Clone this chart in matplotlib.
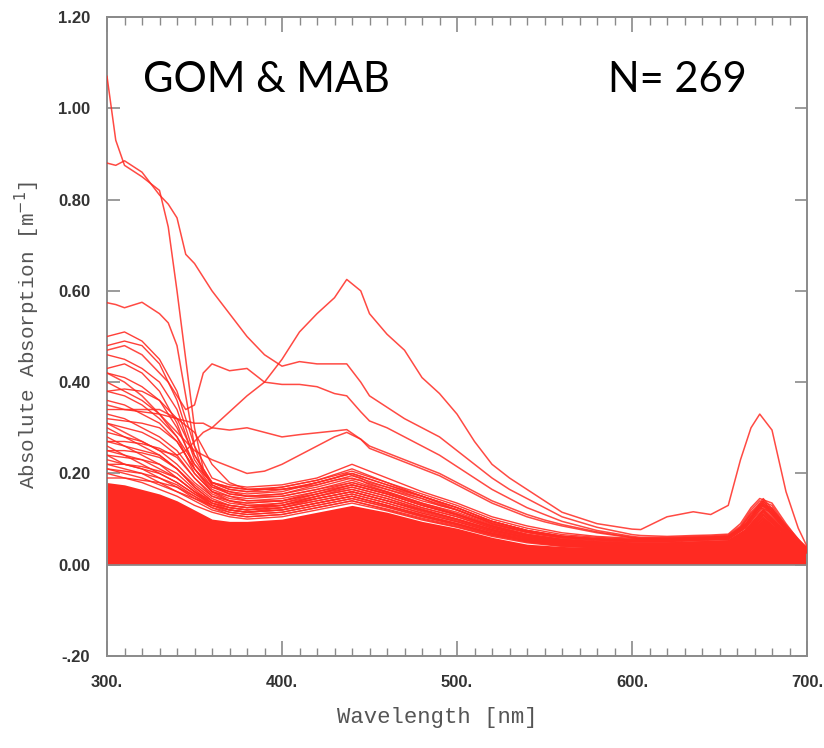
"""
Absolute absorption spectra, GOM & MAB (N=269)
"""
import matplotlib
matplotlib.use('Agg')
import matplotlib.pyplot as plt
from matplotlib.ticker import MultipleLocator

# ---- data ----
# common wavelength grid for the bulk of the spectra
wl = [300, 310, 320, 330, 340, 350, 360, 370, 380, 400, 420, 440, 460, 480,
      500, 520, 540, 560, 580, 600, 620, 640, 655, 665, 675, 685, 700]

# top of the saturated (overplotted) band of low spectra
dense_band_top = [0.18, 0.175, 0.165, 0.155, 0.14, 0.12, 0.10, 0.095, 0.095, 0.10, 0.115, 0.13, 0.115,
                  0.095, 0.08, 0.06, 0.045, 0.04, 0.038, 0.037, 0.038, 0.042, 0.045, 0.065, 0.10, 0.07, 0.035]

cluster_spectra = [
    [0.50, 0.51, 0.49, 0.45, 0.38, 0.26, 0.19, 0.175, 0.17, 0.175, 0.19, 0.22, 0.19, 0.16, 0.135, 0.105, 0.085, 0.07, 0.062, 0.058, 0.058, 0.06, 0.062, 0.09, 0.145, 0.10, 0.035],
    [0.48, 0.49, 0.48, 0.44, 0.36, 0.24, 0.18, 0.165, 0.16, 0.17, 0.185, 0.21, 0.18, 0.155, 0.13, 0.10, 0.08, 0.066, 0.06, 0.056, 0.056, 0.058, 0.06, 0.088, 0.14, 0.095, 0.034],
    [0.46, 0.45, 0.43, 0.40, 0.34, 0.23, 0.175, 0.16, 0.155, 0.16, 0.18, 0.20, 0.175, 0.15, 0.125, 0.095, 0.075, 0.062, 0.056, 0.053, 0.053, 0.056, 0.058, 0.085, 0.135, 0.09, 0.033],
    [0.43, 0.44, 0.42, 0.38, 0.31, 0.21, 0.17, 0.16, 0.15, 0.155, 0.17, 0.19, 0.165, 0.14, 0.12, 0.09, 0.072, 0.06, 0.054, 0.052, 0.052, 0.055, 0.057, 0.082, 0.13, 0.088, 0.032],
    [0.42, 0.41, 0.39, 0.36, 0.30, 0.22, 0.18, 0.17, 0.165, 0.17, 0.185, 0.205, 0.18, 0.15, 0.125, 0.095, 0.075, 0.063, 0.057, 0.054, 0.054, 0.057, 0.059, 0.086, 0.14, 0.092, 0.033],
    [0.40, 0.38, 0.36, 0.33, 0.28, 0.20, 0.16, 0.15, 0.145, 0.15, 0.165, 0.185, 0.16, 0.135, 0.115, 0.088, 0.07, 0.058, 0.052, 0.05, 0.05, 0.053, 0.055, 0.08, 0.125, 0.085, 0.032],
    [0.38, 0.37, 0.35, 0.32, 0.28, 0.22, 0.17, 0.155, 0.15, 0.155, 0.175, 0.195, 0.17, 0.145, 0.12, 0.092, 0.072, 0.06, 0.054, 0.051, 0.051, 0.054, 0.056, 0.082, 0.13, 0.088, 0.032],
    [0.36, 0.35, 0.33, 0.31, 0.27, 0.21, 0.165, 0.15, 0.14, 0.145, 0.16, 0.175, 0.155, 0.13, 0.11, 0.085, 0.066, 0.055, 0.05, 0.048, 0.048, 0.05, 0.052, 0.076, 0.12, 0.082, 0.031],
    [0.34, 0.34, 0.335, 0.33, 0.32, 0.29, 0.22, 0.18, 0.165, 0.165, 0.18, 0.20, 0.175, 0.15, 0.125, 0.095, 0.075, 0.062, 0.056, 0.053, 0.053, 0.056, 0.058, 0.085, 0.135, 0.09, 0.033],
    [0.33, 0.32, 0.30, 0.28, 0.25, 0.20, 0.16, 0.145, 0.14, 0.14, 0.155, 0.17, 0.15, 0.125, 0.105, 0.08, 0.063, 0.052, 0.047, 0.045, 0.045, 0.048, 0.05, 0.072, 0.115, 0.078, 0.03],
    [0.31, 0.30, 0.29, 0.27, 0.24, 0.19, 0.155, 0.14, 0.135, 0.14, 0.155, 0.175, 0.155, 0.13, 0.11, 0.083, 0.065, 0.054, 0.049, 0.046, 0.046, 0.049, 0.051, 0.075, 0.118, 0.08, 0.03],
    [0.30, 0.28, 0.26, 0.24, 0.21, 0.175, 0.145, 0.13, 0.125, 0.13, 0.145, 0.16, 0.14, 0.118, 0.098, 0.075, 0.058, 0.048, 0.044, 0.042, 0.042, 0.045, 0.047, 0.068, 0.108, 0.074, 0.029],
    [0.29, 0.28, 0.27, 0.25, 0.22, 0.18, 0.15, 0.14, 0.135, 0.14, 0.16, 0.18, 0.16, 0.135, 0.112, 0.086, 0.067, 0.056, 0.05, 0.047, 0.047, 0.05, 0.052, 0.076, 0.12, 0.082, 0.031],
    [0.28, 0.26, 0.24, 0.22, 0.19, 0.16, 0.135, 0.125, 0.12, 0.125, 0.14, 0.155, 0.135, 0.113, 0.094, 0.072, 0.056, 0.046, 0.042, 0.04, 0.04, 0.043, 0.045, 0.065, 0.104, 0.07, 0.028],
    [0.27, 0.26, 0.25, 0.24, 0.21, 0.17, 0.14, 0.13, 0.125, 0.13, 0.15, 0.17, 0.15, 0.125, 0.105, 0.08, 0.062, 0.051, 0.046, 0.044, 0.044, 0.047, 0.049, 0.071, 0.112, 0.076, 0.03],
    [0.26, 0.24, 0.22, 0.20, 0.18, 0.155, 0.13, 0.12, 0.115, 0.12, 0.135, 0.15, 0.13, 0.11, 0.09, 0.069, 0.054, 0.045, 0.041, 0.039, 0.039, 0.042, 0.044, 0.063, 0.10, 0.068, 0.028],
    [0.25, 0.24, 0.23, 0.21, 0.19, 0.16, 0.14, 0.13, 0.125, 0.135, 0.155, 0.175, 0.155, 0.13, 0.108, 0.082, 0.064, 0.053, 0.048, 0.045, 0.045, 0.048, 0.05, 0.073, 0.116, 0.078, 0.03],
    [0.24, 0.22, 0.21, 0.19, 0.17, 0.145, 0.125, 0.115, 0.11, 0.115, 0.13, 0.145, 0.127, 0.106, 0.088, 0.067, 0.052, 0.043, 0.039, 0.037, 0.037, 0.04, 0.042, 0.06, 0.096, 0.066, 0.027],
    [0.23, 0.22, 0.21, 0.20, 0.18, 0.155, 0.135, 0.125, 0.12, 0.13, 0.15, 0.165, 0.145, 0.12, 0.10, 0.077, 0.06, 0.05, 0.045, 0.042, 0.042, 0.045, 0.047, 0.068, 0.108, 0.074, 0.029],
    [0.22, 0.21, 0.20, 0.18, 0.16, 0.14, 0.12, 0.11, 0.105, 0.11, 0.125, 0.14, 0.122, 0.102, 0.085, 0.065, 0.05, 0.042, 0.038, 0.036, 0.036, 0.039, 0.041, 0.058, 0.092, 0.064, 0.026],
    [0.21, 0.20, 0.19, 0.175, 0.16, 0.145, 0.13, 0.12, 0.115, 0.125, 0.145, 0.16, 0.14, 0.116, 0.096, 0.074, 0.058, 0.048, 0.043, 0.041, 0.041, 0.044, 0.046, 0.066, 0.104, 0.071, 0.029],
    [0.20, 0.19, 0.18, 0.165, 0.15, 0.13, 0.115, 0.105, 0.10, 0.105, 0.12, 0.135, 0.118, 0.098, 0.082, 0.062, 0.048, 0.04, 0.037, 0.035, 0.035, 0.038, 0.04, 0.056, 0.088, 0.062, 0.026],
    [0.32, 0.315, 0.31, 0.30, 0.27, 0.21, 0.16, 0.14, 0.13, 0.13, 0.145, 0.16, 0.14, 0.12, 0.10, 0.077, 0.06, 0.05, 0.045, 0.043, 0.043, 0.046, 0.048, 0.07, 0.11, 0.075, 0.03],
    [0.27, 0.27, 0.265, 0.255, 0.235, 0.19, 0.15, 0.135, 0.13, 0.135, 0.15, 0.165, 0.145, 0.122, 0.10, 0.077, 0.06, 0.05, 0.045, 0.043, 0.043, 0.046, 0.048, 0.07, 0.11, 0.075, 0.03],
    [0.25, 0.25, 0.245, 0.235, 0.21, 0.17, 0.14, 0.125, 0.12, 0.125, 0.14, 0.155, 0.135, 0.113, 0.094, 0.072, 0.056, 0.046, 0.042, 0.04, 0.04, 0.043, 0.045, 0.065, 0.102, 0.07, 0.028],
    [0.24, 0.235, 0.23, 0.22, 0.20, 0.165, 0.135, 0.12, 0.115, 0.12, 0.135, 0.15, 0.13, 0.108, 0.09, 0.069, 0.054, 0.045, 0.041, 0.039, 0.039, 0.042, 0.044, 0.063, 0.10, 0.068, 0.028],
    [0.22, 0.22, 0.215, 0.205, 0.19, 0.16, 0.13, 0.115, 0.11, 0.115, 0.13, 0.145, 0.126, 0.105, 0.087, 0.067, 0.052, 0.043, 0.039, 0.037, 0.037, 0.04, 0.042, 0.06, 0.095, 0.066, 0.027],
    [0.21, 0.205, 0.20, 0.19, 0.175, 0.15, 0.125, 0.11, 0.105, 0.11, 0.125, 0.14, 0.12, 0.10, 0.083, 0.064, 0.05, 0.041, 0.037, 0.036, 0.036, 0.039, 0.041, 0.058, 0.092, 0.063, 0.026],
    [0.19, 0.19, 0.185, 0.18, 0.17, 0.15, 0.13, 0.12, 0.115, 0.12, 0.135, 0.15, 0.13, 0.108, 0.09, 0.069, 0.054, 0.045, 0.041, 0.039, 0.039, 0.042, 0.044, 0.063, 0.10, 0.068, 0.028],
    [0.38, 0.385, 0.38, 0.36, 0.32, 0.24, 0.175, 0.155, 0.15, 0.15, 0.165, 0.18, 0.158, 0.133, 0.11, 0.085, 0.066, 0.055, 0.05, 0.047, 0.047, 0.05, 0.052, 0.076, 0.12, 0.082, 0.031],
]

# finer grid for the few outlying spectra
wl_fine = [300, 305, 310, 320, 330, 335, 340, 345, 350, 355, 360, 370, 380, 390, 400, 410, 420, 430, 437, 445,
           450, 460, 470, 480, 490, 500, 510, 520, 530, 540, 550, 560, 580, 600, 605, 620, 635, 645, 655, 662,
           668, 673, 680, 688, 695, 700]

outlier_spectra = [
    # starts at 1.07
    [1.07, 0.93, 0.875, 0.85, 0.82, 0.74, 0.60, 0.45, 0.30, 0.21, 0.18, 0.17, 0.165, 0.165, 0.165, 0.17, 0.175, 0.185, 0.19, 0.185,
     0.175, 0.165, 0.155, 0.145, 0.13, 0.12, 0.105, 0.095, 0.085, 0.075, 0.068, 0.062, 0.058, 0.055, 0.055, 0.056, 0.058, 0.06, 0.062, 0.08,
     0.11, 0.13, 0.12, 0.08, 0.05, 0.035],
    # starts at 0.88, plateau ~0.44
    [0.88, 0.875, 0.885, 0.86, 0.81, 0.79, 0.76, 0.68, 0.66, 0.63, 0.60, 0.55, 0.50, 0.46, 0.435, 0.445, 0.44, 0.44, 0.44, 0.40,
     0.37, 0.345, 0.32, 0.30, 0.28, 0.25, 0.22, 0.19, 0.165, 0.145, 0.125, 0.105, 0.082, 0.066, 0.064, 0.062, 0.064, 0.065, 0.067, 0.09,
     0.125, 0.145, 0.135, 0.09, 0.055, 0.038],
    # starts at 0.57
    [0.574, 0.57, 0.563, 0.575, 0.55, 0.53, 0.48, 0.37, 0.26, 0.20, 0.18, 0.165, 0.16, 0.16, 0.165, 0.17, 0.18, 0.19, 0.20, 0.19,
     0.18, 0.17, 0.16, 0.15, 0.135, 0.12, 0.105, 0.09, 0.08, 0.072, 0.065, 0.06, 0.055, 0.052, 0.052, 0.053, 0.055, 0.056, 0.058, 0.075,
     0.105, 0.125, 0.115, 0.075, 0.047, 0.034],
    # dips at 345 then jumps to ~0.44
    [0.47, 0.475, 0.48, 0.46, 0.42, 0.40, 0.37, 0.34, 0.35, 0.42, 0.44, 0.425, 0.43, 0.40, 0.395, 0.395, 0.39, 0.375, 0.37, 0.335,
     0.315, 0.30, 0.28, 0.26, 0.24, 0.215, 0.19, 0.165, 0.145, 0.125, 0.11, 0.095, 0.075, 0.062, 0.06, 0.06, 0.062, 0.063, 0.065, 0.085,
     0.12, 0.14, 0.13, 0.085, 0.05, 0.036],
    # flat ~0.30
    [0.35, 0.345, 0.34, 0.34, 0.34, 0.33, 0.32, 0.315, 0.31, 0.31, 0.30, 0.295, 0.30, 0.29, 0.28, 0.285, 0.289, 0.293, 0.296, 0.275,
     0.26, 0.245, 0.23, 0.215, 0.20, 0.18, 0.16, 0.14, 0.125, 0.11, 0.098, 0.088, 0.072, 0.06, 0.058, 0.058, 0.06, 0.061, 0.063, 0.082,
     0.115, 0.135, 0.125, 0.082, 0.05, 0.035],
    # rises from 0.20 to 0.29 at 437
    [0.42, 0.41, 0.40, 0.37, 0.33, 0.31, 0.29, 0.27, 0.25, 0.24, 0.23, 0.215, 0.20, 0.205, 0.22, 0.24, 0.26, 0.28, 0.29, 0.275,
     0.255, 0.24, 0.225, 0.21, 0.195, 0.175, 0.155, 0.135, 0.12, 0.105, 0.094, 0.085, 0.07, 0.059, 0.057, 0.057, 0.059, 0.06, 0.062, 0.08,
     0.112, 0.132, 0.122, 0.08, 0.049, 0.035],
    # big peak 0.62 at 437 and 0.33 at 673
    [0.31, 0.30, 0.29, 0.27, 0.25, 0.245, 0.24, 0.25, 0.27, 0.29, 0.30, 0.335, 0.37, 0.40, 0.45, 0.51, 0.55, 0.585, 0.625, 0.60,
     0.55, 0.505, 0.47, 0.41, 0.375, 0.33, 0.27, 0.22, 0.19, 0.165, 0.14, 0.115, 0.09, 0.078, 0.077, 0.105, 0.116, 0.11, 0.13, 0.23,
     0.30, 0.33, 0.295, 0.16, 0.08, 0.04],
]

xticks = [300, 400, 500, 600, 700]
xtick_labels = ['300.', '400.', '500.', '600.', '700.']
yticks = [-0.2, 0.0, 0.2, 0.4, 0.6, 0.8, 1.0, 1.2]
ytick_labels = ['-.20', '0.00', '0.20', '0.40', '0.60', '0.80', '1.00', '1.20']

RED = '#ff2a22'
GRAY = '#8a8a8a'

fig = plt.figure(figsize=(8.24, 7.48), dpi=100)
ax = fig.add_axes([107 / 824, 1 - 656 / 748, 700 / 824, 639 / 748])

# saturated band of overplotted spectra
ax.fill_between(wl, 0, dense_band_top, color=RED, lw=0, zorder=2)
for s in cluster_spectra:
    ax.plot(wl, s, color=RED, lw=1.0, alpha=0.9, zorder=3)
for s in outlier_spectra:
    ax.plot(wl_fine, s, color=RED, lw=1.1, alpha=0.85, zorder=4)

ax.axhline(0, color=GRAY, lw=1.2, zorder=5)

ax.set_xlim(300, 700)
ax.set_ylim(-0.2, 1.2)

ax.set_xticks(xticks)
ax.set_xticklabels(xtick_labels)
ax.xaxis.set_minor_locator(MultipleLocator(10))
ax.set_yticks(yticks)
ax.set_yticklabels(ytick_labels)

ax.tick_params(axis='both', which='both', direction='in', colors=GRAY,
               top=True, right=True, labelcolor='#333333')
ax.tick_params(axis='x', which='major', length=11, width=1.2, pad=14)
ax.tick_params(axis='x', which='minor', length=6, width=1.0)
ax.tick_params(axis='y', which='major', length=9, width=1.2, pad=12)
for lab in ax.get_xticklabels() + ax.get_yticklabels():
    lab.set_fontfamily('Liberation Sans')
    lab.set_fontsize(12)
    lab.set_fontweight('bold')

for sp in ax.spines.values():
    sp.set_color(GRAY)
    sp.set_linewidth(1.4)

fig.text(437 / 824, 1 - 718 / 748, 'Wavelength [nm]', family='Liberation Mono',
         fontsize=16, color='#555555', ha='center', va='center')
fig.text(27 / 824, 1 - 335 / 748, 'Absolute Absorption [m$^{-1}$]', family='Liberation Mono',
         fontsize=15, color='#555555', ha='center', va='center', rotation=90)

fig.text(143 / 824, 1 - 92 / 748, 'GOM & MAB', family='Lato', fontsize=30,
         color='black', ha='left', va='baseline')
fig.text(608 / 824, 1 - 92 / 748, 'N= 269', family='Lato', fontsize=30,
         color='black', ha='left', va='baseline')

fig.savefig('out.png', dpi=100)
